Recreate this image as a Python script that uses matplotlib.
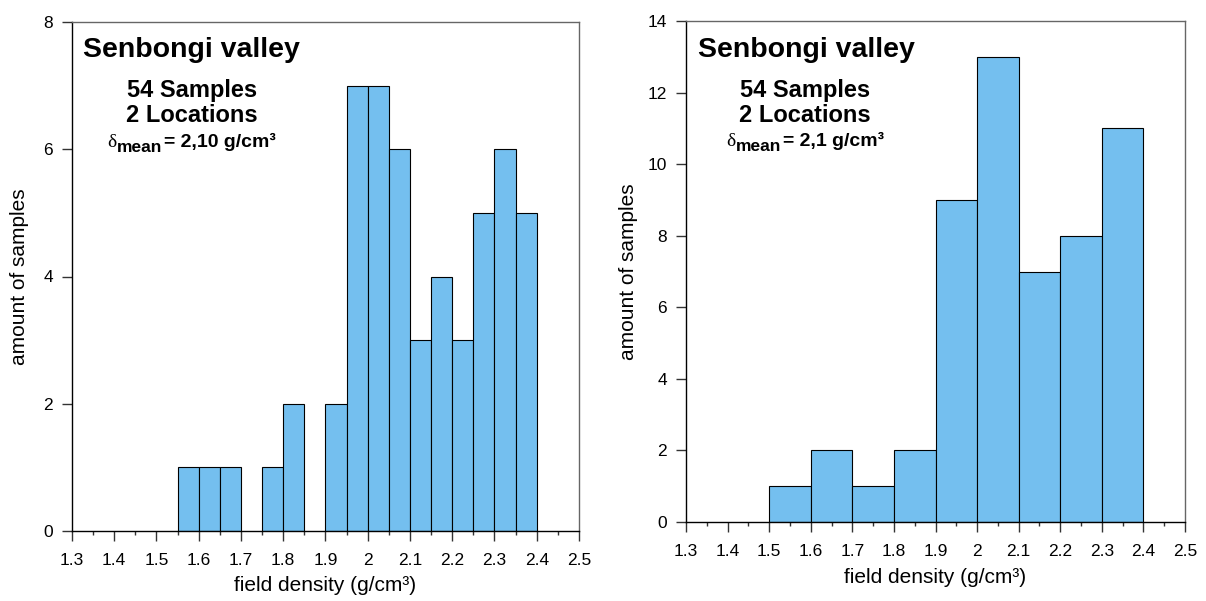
import numpy as np
import matplotlib.pyplot as plt
from matplotlib.ticker import MultipleLocator

plt.rcParams['font.family'] = ['Liberation Sans', 'DejaVu Sans']

# left histogram: 0.05 bins
left_edges = [1.55, 1.60, 1.65, 1.70, 1.75, 1.80, 1.85, 1.90, 1.95,
              2.00, 2.05, 2.10, 2.15, 2.20, 2.25, 2.30, 2.35, 2.40]
left_counts = [1, 1, 1, 0, 1, 2, 0, 2, 7, 7, 6, 3, 4, 3, 5, 6, 5]

# right histogram: 0.1 bins
right_edges = [1.5, 1.6, 1.7, 1.8, 1.9, 2.0, 2.1, 2.2, 2.3, 2.4]
right_counts = [1, 2, 1, 2, 9, 13, 7, 8, 11]

x_ticks = [1.3, 1.4, 1.5, 1.6, 1.7, 1.8, 1.9, 2.0, 2.1, 2.2, 2.3, 2.4, 2.5]
x_ticklabels = ['1.3', '1.4', '1.5', '1.6', '1.7', '1.8', '1.9', '2',
                '2.1', '2.2', '2.3', '2.4', '2.5']

title = 'Senbongi valley'
info = ['54 Samples', '2 Locations']
mean_left = '= 2,10 g/cm³'
mean_right = '= 2,1 g/cm³'

W, H = 1206, 601
fig = plt.figure(figsize=(W / 100, H / 100), dpi=100)
renderer = fig.canvas.get_renderer()


def px(x, y):
    return x / W, 1 - y / H


def draw(ax, edges, counts, ymax, ylab_x, xlab_y):
    edges = np.array(edges)
    counts = np.array(counts)
    keep = counts > 0
    ax.bar(edges[:-1][keep], counts[keep], width=np.diff(edges)[keep],
           align='edge', color='#74bfef', edgecolor='black', linewidth=0.8)
    ax.set_xlim(1.3, 2.5)
    ax.set_ylim(0, ymax)
    ax.set_xticks(x_ticks)
    ax.set_xticklabels(x_ticklabels)
    ax.xaxis.set_minor_locator(MultipleLocator(0.05))
    ax.yaxis.set_major_locator(MultipleLocator(2))
    ax.tick_params(axis='x', which='major', direction='out', length=7.5,
                   width=1, labelsize=12.5, pad=8, color='#333333')
    ax.tick_params(axis='x', which='minor', direction='out', length=3,
                   width=1, color='#333333')
    ax.tick_params(axis='y', direction='out', length=7.5, width=1,
                   labelsize=12.5, pad=6, color='#333333')
    for s in ['top', 'right']:
        ax.spines[s].set_color('#666666')
    for s in ax.spines.values():
        s.set_linewidth(1)
    ax.set_xlabel('field density (g/cm³)', fontsize=15)
    ax.set_ylabel('amount of samples', fontsize=15)
    ax.xaxis.set_label_coords(0.5, xlab_y)
    ax.xaxis.label.set_va('center')
    ax.yaxis.set_label_coords(ylab_x, 0.5)
    ax.yaxis.label.set_va('center')


ax1 = fig.add_axes([72 / W, 1 - 531 / H, 507 / W, 509 / H])
draw(ax1, left_edges, left_counts, 8, -0.1026, -0.108)
ax2 = fig.add_axes([686 / W, 1 - 522 / H, 499 / W, 501 / H])
draw(ax2, right_edges, right_counts, 14, -0.116, -0.11)


def mean_line(x, y, value):
    # delta, big bold subscript "mean", then the value
    pieces = [('δ', dict(family='Liberation Serif', fontsize=14), 0),
              ('mean', dict(fontsize=12.5, fontweight='bold'), 5),
              (value, dict(fontsize=14, fontweight='bold'), 0)]
    for txt, kw, dy in pieces:
        t = fig.text(*px(x, y + dy), txt, va='baseline', **kw)
        x += t.get_window_extent(renderer).width + 1


# annotations, left panel
fig.text(*px(83, 57), title, fontsize=20.5, fontweight='bold', va='baseline')
fig.text(*px(192, 97), info[0], fontsize=17, fontweight='bold', ha='center', va='baseline')
fig.text(*px(192, 122), info[1], fontsize=17, fontweight='bold', ha='center', va='baseline')
mean_line(107, 147, mean_left)

# annotations, right panel
fig.text(*px(698, 57), title, fontsize=20.5, fontweight='bold', va='baseline')
fig.text(*px(805, 97), info[0], fontsize=17, fontweight='bold', ha='center', va='baseline')
fig.text(*px(805, 122), info[1], fontsize=17, fontweight='bold', ha='center', va='baseline')
mean_line(726, 146, mean_right)

fig.savefig('out.png', dpi=100)
